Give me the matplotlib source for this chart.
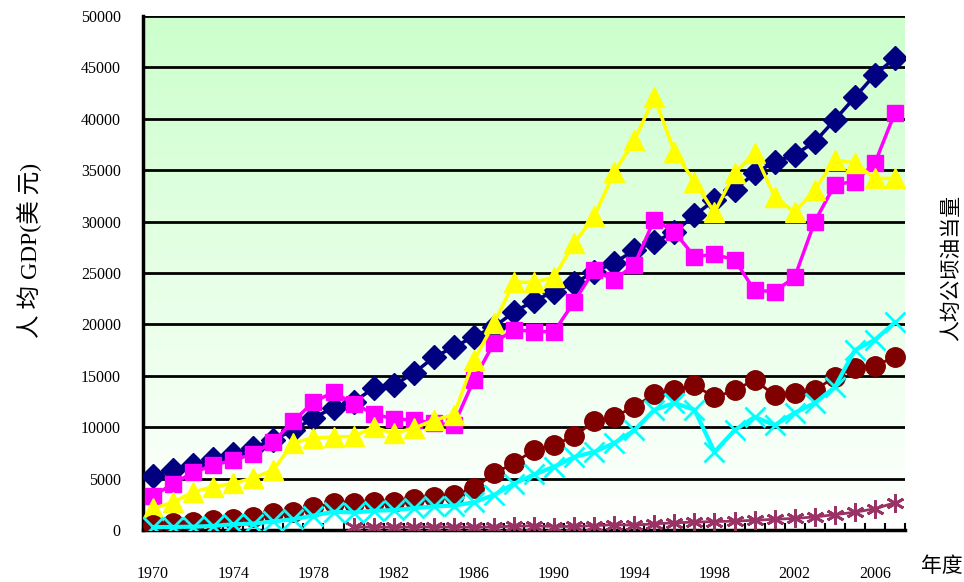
import matplotlib
matplotlib.use("Agg")
import matplotlib.pyplot as plt
import numpy as np
from matplotlib.colors import LinearSegmentedColormap

plt.rcParams['font.family'] = ['Liberation Serif', 'Noto Sans CJK SC', 'DejaVu Sans']

# data
years = list(range(1970, 2008))
usa = [5300, 5800, 6300, 6900, 7400, 8000, 8800, 9700, 10900, 11900,
       12450, 13800, 14100, 15250, 16800, 17800, 18800, 19750, 21200, 22300,
       23200, 24000, 25100, 26000, 27200, 28000, 29000, 30600, 32100, 33100,
       34700, 35800, 36500, 37750, 39900, 42100, 44300, 45900]
germany = [3300, 4500, 5600, 6300, 6800, 7400, 8600, 10600, 12450, 13400,
           12300, 11300, 10800, 10700, 10400, 10200, 14600, 18200, 19500, 19300,
           19300, 22200, 25300, 24300, 25800, 30200, 29000, 26600, 26800, 26300,
           23300, 23200, 24600, 30000, 33600, 33900, 35700, 40600]
japan = [2100, 2700, 3700, 4200, 4550, 5050, 5850, 8500, 8950, 9050,
         9100, 10000, 9400, 9900, 10700, 11200, 16500, 20100, 24100, 24100,
         24600, 27900, 30500, 34800, 37900, 42100, 36800, 33900, 30900, 34700,
         36700, 32400, 30900, 33100, 36000, 35700, 34200, 34200]
taiwan = [500, 650, 800, 950, 1050, 1250, 1650, 1750, 2200, 2600,
          2600, 2700, 2700, 3000, 3200, 3400, 4050, 5500, 6500, 7800,
          8300, 9100, 10600, 11000, 12000, 13200, 13600, 14100, 12900, 13600,
          14600, 13100, 13300, 13600, 14900, 15800, 16000, 16800]
korea = [280, 300, 320, 400, 560, 620, 830, 1050, 1400, 1780,
         1700, 1870, 1940, 2120, 2300, 2370, 2700, 3400, 4500, 5400,
         6150, 7100, 7600, 8450, 9700, 11700, 12350, 11700, 7600, 9700,
         11000, 10200, 11400, 12350, 13900, 17500, 18500, 20200]
china_years = list(range(1980, 2008))
china = [310, 290, 280, 300, 310, 290, 280, 300, 370, 400,
         340, 350, 420, 520, 470, 600, 700, 770, 820, 860,
         950, 1040, 1130, 1270, 1490, 1730, 2070, 2650]

fig = plt.figure(figsize=(9.64, 5.82), dpi=100)
ax = fig.add_axes([143/964, 52/582, 762/964, 514/582])

# green to white background
cmap = LinearSegmentedColormap.from_list('bg', ['#ffffff', '#ccffcc'])
grad = np.linspace(0, 1, 256).reshape(-1, 1)
ax.imshow(grad, extent=[0, 1, 0, 1], transform=ax.transAxes, aspect='auto',
          cmap=cmap, origin='lower', zorder=0)

x = np.arange(len(years))
xc = np.array(china_years) - years[0]

ax.plot(x, usa, color='#000080', lw=2.5, marker='D', ms=12, zorder=3)
ax.plot(x, germany, color='#ff00ff', lw=2.5, marker='s', ms=12, zorder=3)
ax.plot(x, japan, color='#ffff00', lw=2.5, marker='^', ms=14, zorder=3)
ax.plot(x, taiwan, color='#800000', lw=2, marker='o', ms=14, zorder=3)
ax.plot(x, korea, color='#00ffff', lw=3, marker='x', ms=14, mew=2, zorder=3)
ax.plot(xc, china, color='#993366', lw=2, marker=(6, 2, 0), ms=13, mew=2, zorder=3)

ax.set_xlim(-0.5, len(years) - 0.5)
ax.set_ylim(0, 50000)
ax.set_yticks(np.arange(0, 50001, 5000))
ax.yaxis.grid(True, color='black', lw=2)
ax.set_axisbelow(True)
ax.tick_params(axis='y', length=0, pad=16, labelsize=11.5)

ax.set_xticks(x[::4])
ax.set_xticklabels([str(y) for y in years[::4]])
ax.set_xticks(np.arange(-0.5, len(years), 1), minor=True)
ax.tick_params(axis='x', which='major', length=0, pad=26, labelsize=11.5)
ax.tick_params(axis='x', which='minor', direction='in', length=5, width=1.5)

for s in ['top', 'right']:
    ax.spines[s].set_visible(False)
ax.spines['left'].set_linewidth(2.5)
ax.spines['bottom'].set_linewidth(2.5)

fig.text(30/964, 1 - 250/582, '人 均 GDP(美 元)', rotation=90, fontsize=17,
         ha='center', va='center')
fig.text(952/964, 1 - 268/582, '人均公顷油当量', rotation=90, fontsize=15,
         ha='center', va='center')
fig.text(942/964, 1 - 566/582, '年度', fontsize=15, ha='center', va='center',
         family=['Noto Sans CJK SC'])

fig.savefig('out.png', dpi=100)
